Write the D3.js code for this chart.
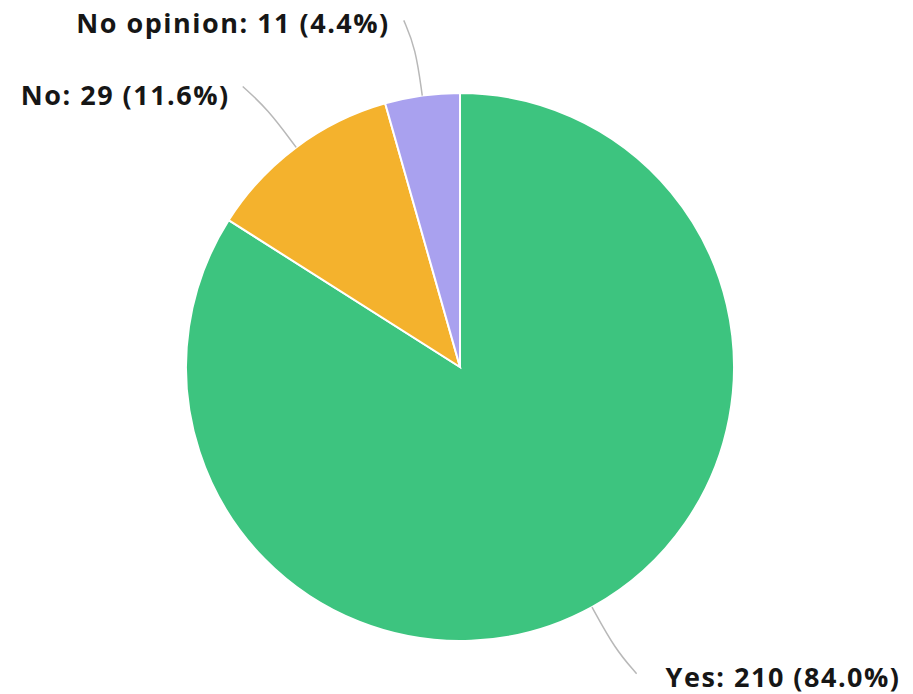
<!DOCTYPE html>
<html>
<head>
<meta charset="utf-8">
<script src="https://cdn.jsdelivr.net/npm/d3@7"></script>
<style>
  body { margin: 0; background: #fff; }
  text { font-family: "Open Sans", sans-serif; font-weight: bold; fill: #161616; }
</style>
</head>
<body>
<div id="chart"></div>
<script>
// chart data
var categories = ["Yes", "No", "No opinion"];
var counts = [210, 29, 11];
var percents = ["84.0%", "11.6%", "4.4%"];
var colors = ["#3dc47f", "#f4b22d", "#a9a1ef"];

function init() {
    var w = 913;
    var h = 694;
    var cx = 460, cy = 367;
    var radius = 274;
    var elbowR = 322;
    var lineOuter = 350;

    // label placement relative to the leader line end
    var labelShift = [
        { dx: 29, dy: 4 },
        { dx: -13, dy: 9 },
        { dx: -14, dy: 3 }
    ];

    var svg = d3.select("#chart")
                .append("svg")
                .attr("width", w)
                .attr("height", h);

    var g = svg.append("g")
               .attr("transform", "translate(" + cx + "," + cy + ")");

    var pie = d3.pie()
                .sort(null)
                .value(function(d) { return d; });

    var arcs = pie(counts);

    var arc = d3.arc()
                .innerRadius(0)
                .outerRadius(radius);

    g.selectAll("path.slice")
     .data(arcs)
     .enter()
     .append("path")
     .attr("class", "slice")
     .attr("d", arc)
     .style("fill", function(d, i) { return colors[i]; })
     .style("stroke", "#fff")
     .style("stroke-width", 2);

    function midAngle(d) { return (d.startAngle + d.endAngle) / 2; }

    function pointAt(angle, r) {
        return [Math.sin(angle) * r, -Math.cos(angle) * r];
    }

    function lineEnd(d) {
        var a = midAngle(d);
        var p = pointAt(a, lineOuter);
        var side = a > Math.PI ? -1 : 1;
        return [p[0] + side * 8, p[1]];
    }

    var leader = d3.line().curve(d3.curveBasis);

    g.selectAll("path.leader")
     .data(arcs)
     .enter()
     .append("path")
     .attr("class", "leader")
     .attr("d", function(d) {
         var a = midAngle(d);
         return leader([pointAt(a, radius), pointAt(a, elbowR), lineEnd(d)]);
     })
     .style("fill", "none")
     .style("stroke", "#b8b8b8")
     .style("stroke-width", 1.5);

    g.selectAll("text.label")
     .data(arcs)
     .enter()
     .append("text")
     .attr("class", "label")
     .attr("x", function(d, i) { return lineEnd(d)[0] + labelShift[i].dx; })
     .attr("y", function(d, i) { return lineEnd(d)[1] + labelShift[i].dy; })
     .attr("dy", "0.35em")
     .attr("text-anchor", function(d) {
         return midAngle(d) > Math.PI ? "end" : "start";
     })
     .style("font-size", "27px")
     .style("letter-spacing", "1.5px")
     .text(function(d, i) {
         return categories[i] + ": " + counts[i] + " (" + percents[i] + ")";
     });
}

window.onload = init;
</script>
</body>
</html>
